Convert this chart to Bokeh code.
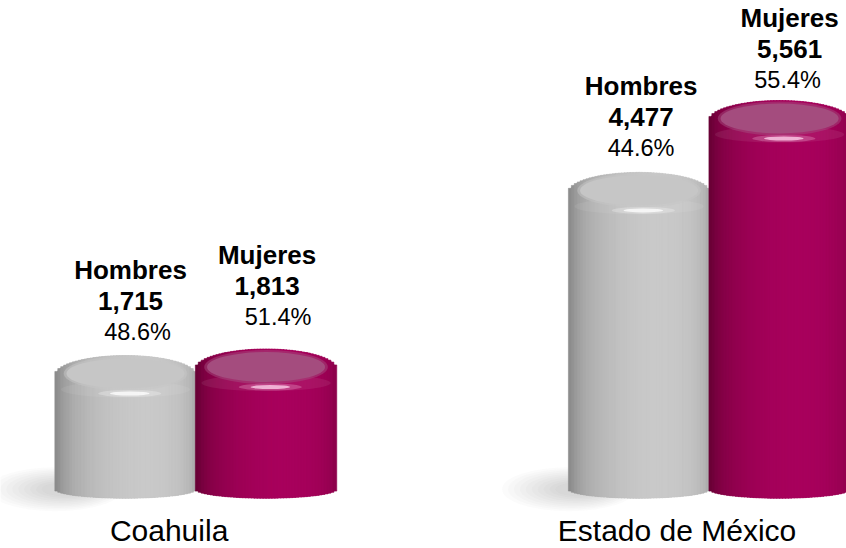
import math
from bokeh.plotting import figure
from bokeh.models import ColumnDataSource, Range1d
from bokeh.embed import file_html
from bokeh.resources import INLINE
from bokeh.core.properties import value as V

# ---------------- data ----------------
groups = ["Coahuila", "Estado de México"]
sexes = ["Hombres", "Mujeres"]
coahuila_values = [1715, 1813]
edomex_values = [4477, 5561]
coahuila_pct = ["48.6%", "51.4%"]
edomex_pct = ["44.6%", "55.4%"]

# ---------------- styles / layout ----------------
W, H = 846, 548
X_START, X_END = -0.890, 5.131
Y_START, Y_END = -894, 7371
GROUP_STEP = 3.655
BAR_W = 1.0
N_STRIPS = 48
CAP_PX = 20.0       # semi-height of the top ellipse (screen px)
BOT_PX = 9.0        # semi-height of the bottom ellipse (screen px)
FONT = "Liberation Sans"
TEXT_SHIFT = -10    # baseline correction (screen px)
group_label_dx = [0.31, 0.27]

body_dark = {"Hombres": "#8c8c8c", "Mujeres": "#6a0036"}
body_peak = {"Hombres": "#c9c9c9", "Mujeres": "#a8005c"}
edge_fill = {"Hombres": "#969696", "Mujeres": "#72003c"}
face_col = {"Hombres": "#c6c6c6", "Mujeres": "#a44c7e"}
hi_col = {"Hombres": "#ffffff", "Mujeres": "#ffd6ee"}

# per-bar label nudges (screen px), order: Coah H, Coah M, Edo H, Edo M
name_dx = [5, 1, 2, 10]
pct_dx = [12, 12, 2, 8]
extra_dy = [0, -8, 0, 3]

px_per_y = H / (Y_END - Y_START)


def hex2rgb(h):
    h = h.lstrip("#")
    return [int(h[i:i + 2], 16) for i in (0, 2, 4)]


def mix(c1, c2, t):
    a, b = hex2rgb(c1), hex2rgb(c2)
    return "#%02x%02x%02x" % tuple(int(round(a[i] + (b[i] - a[i]) * t)) for i in range(3))


def shade(u, dark, peak, theta0=0.3, gamma=0.8):
    th = math.asin(max(-1.0, min(1.0, u)))
    f = max(0.0, math.cos(th - theta0)) ** gamma
    return mix(dark, peak, f)


# bars assembled from the data arrays
bars = {"x": [], "v": [], "sex": [], "name": [], "num": [], "pct": []}
for gi, (vals, pcts) in enumerate([(coahuila_values, coahuila_pct), (edomex_values, edomex_pct)]):
    for si, sex in enumerate(sexes):
        bars["x"].append(gi * GROUP_STEP + si)
        bars["v"].append(vals[si])
        bars["sex"].append(sex)
        bars["name"].append(sex)
        bars["num"].append(f"{vals[si]:,}")
        bars["pct"].append(pcts[si])

# vertical strips that shade each cylinder
strips = {"x": [], "top": [], "bottom": [], "color": []}
for x, v, sex in zip(bars["x"], bars["v"], bars["sex"]):
    for j in range(N_STRIPS):
        u = -1 + (2 * j + 1) / N_STRIPS
        k = math.sqrt(max(0.0, 1 - u * u))
        strips["x"].append(x + u * BAR_W / 2)
        strips["top"].append(v + k * CAP_PX / px_per_y)
        strips["bottom"].append(-k * BOT_PX / px_per_y)
        strips["color"].append(shade(u, body_dark[sex], body_peak[sex]))

p = figure(width=W, height=H, x_range=Range1d(X_START, X_END), y_range=Range1d(Y_START, Y_END),
           output_backend="svg", toolbar_location=None, title=None,
           min_border=0, min_border_left=0, min_border_right=0, min_border_top=0, min_border_bottom=0,
           x_axis_location=None, y_axis_location=None)
p.grid.visible = False
p.outline_line_color = None
p.background_fill_color = "white"
p.border_fill_color = "white"

# soft shadow to the left of the front (Hombres) cylinders
shadow_x = [x for x, s in zip(bars["x"], bars["sex"]) if s == "Hombres"]
for i in range(10):
    t = i / 9
    p.ellipse(x=[x - 0.42 - 0.08 * (1 - t) for x in shadow_x], y=[0] * len(shadow_x),
              width=0.95 - 0.6 * t, height=44 - 30 * t, height_units="screen",
              fill_color="#707070", fill_alpha=0.028, line_color=None)

bsrc = dict(bars)
bsrc["edge"] = [edge_fill[s] for s in bars["sex"]]
bsrc["zero"] = [0] * len(bars["x"])
bsrc["face"] = [face_col[s] for s in bars["sex"]]
bsrc["hi"] = [hi_col[s] for s in bars["sex"]]
bsrc["yface"] = [v + 2 / px_per_y for v in bars["v"]]
bsrc["yglow"] = [v - 14 / px_per_y for v in bars["v"]]
bsrc["yhi"] = [v - 18 / px_per_y for v in bars["v"]]
bsrc["xhi"] = [x + 0.03 for x in bars["x"]]
src = ColumnDataSource(bsrc)

# smooth silhouettes under the strips (top and bottom ellipses)
p.ellipse(x="x", y="v", width=BAR_W * 0.995, height=2 * CAP_PX, height_units="screen",
          fill_color="edge", line_color=None, source=src)
p.ellipse(x="x", y="zero", width=BAR_W * 0.995, height=2 * BOT_PX, height_units="screen",
          fill_color="edge", line_color=None, source=src)

# cylinder bodies
p.vbar(x="x", top="top", bottom="bottom", width=BAR_W / N_STRIPS * 1.3, fill_color="color",
       line_color="color", line_width=0.6, source=ColumnDataSource(strips))

# top faces, bevel glow and highlights
p.ellipse(x="x", y="yglow", width=0.92, height=16, height_units="screen",
          fill_color="white", fill_alpha=0.07, line_color=None, source=src)
p.ellipse(x="x", y="yface", width=0.88, height=34, height_units="screen",
          fill_color="face", fill_alpha=0.5, line_color=None, source=src)
p.ellipse(x="x", y="yface", width=0.84, height=30, height_units="screen",
          fill_color="face", line_color=None, source=src)
p.ellipse(x="xhi", y="yhi", width=0.45, height=7, height_units="screen",
          fill_color="hi", fill_alpha=0.25, line_color=None, source=src)
p.ellipse(x="xhi", y="yhi", width=0.28, height=4, height_units="screen",
          fill_color="hi", fill_alpha=0.75, line_color=None, source=src)

# labels above the cylinders
lab = dict(bars)
lab["dx_name"] = name_dx
lab["dx_pct"] = pct_dx
lab["dy_name"] = [-96 + d + TEXT_SHIFT for d in extra_dy]
lab["dy_num"] = [-65 + d + TEXT_SHIFT for d in extra_dy]
lab["dy_pct"] = [-34 + d + TEXT_SHIFT for d in extra_dy]
lsrc = ColumnDataSource(lab)

common = dict(x="x", y="v", text_font=V(FONT), text_align="center", text_baseline="alphabetic",
              text_color="#000000", source=lsrc)
p.text(text="name", x_offset="dx_name", y_offset="dy_name", text_font_style="bold",
       text_font_size="26px", **common)
p.text(text="num", x_offset="dx_name", y_offset="dy_num", text_font_style="bold",
       text_font_size="26px", **common)
p.text(text="pct", x_offset="dx_pct", y_offset="dy_pct", text_font_size="23.5px", **common)

# group labels along the bottom
p.text(x=[gi * GROUP_STEP + group_label_dx[gi] for gi in range(len(groups))],
       y=[p.y_range.start] * len(groups), text=groups, y_offset=-8 + TEXT_SHIFT,
       text_font=V(FONT), text_font_size="30px", text_align="center",
       text_baseline="alphabetic", text_color="#000000")

open("out.html", "w").write(file_html(p, INLINE))
